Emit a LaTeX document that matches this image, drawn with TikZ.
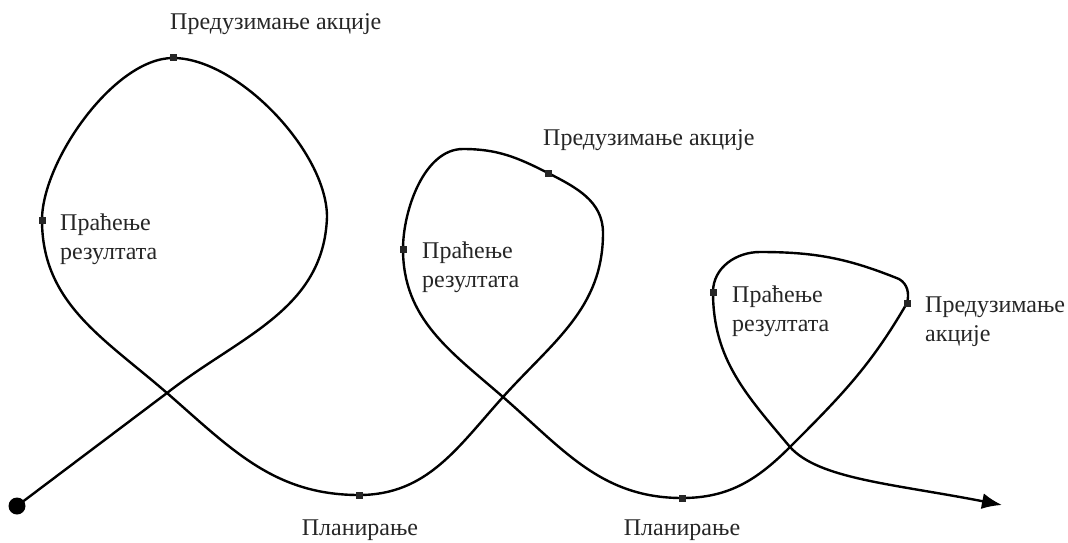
\documentclass[tikz,border=0pt]{standalone}
\usepackage{fontspec}
\setmainfont{Liberation Serif}
\usetikzlibrary{arrows.meta}
\begin{document}
\begin{tikzpicture}[x=1pt,y=1pt,
  curve/.style={line width=2.4pt, line join=round},
  mark box/.style={fill=black!85, minimum size=7pt, inner sep=0pt, draw=none},
  lbl/.style={font=\fontsize{24}{29}\selectfont, text=black!85, inner sep=0pt, align=left}]
\useasboundingbox (0,0) rectangle (1068,-543);
% key points
\coordinate (S)  at (17,-506);
\coordinate (C1) at (167,-393);
\coordinate (R1) at (327,-217);
\coordinate (T1) at (173,-58);
\coordinate (L1) at (42,-220);
\coordinate (B1) at (359,-495);
\coordinate (C2) at (503,-397);
\coordinate (R2) at (603,-233);
\coordinate (M5) at (548,-173);
\coordinate (T2) at (463,-149);
\coordinate (L2) at (403,-249);
\coordinate (B2) at (682,-498);
\coordinate (C3) at (790,-447);
\coordinate (M8) at (907,-303);
\coordinate (K3) at (899,-279);
\coordinate (T3) at (760,-252);
\coordinate (M7) at (713,-292);
\coordinate (E)  at (1002,-505);
\fill (S) circle (8.5);
\draw[curve, -{Latex[length=20pt,width=16pt]}]
 (S) -- (C1)
 to[out=38,in=268] (R1)
 to[out=90,in=0,looseness=0.75] (T1)
 to[out=180,in=90,looseness=0.72] (L1)
 to[out=270,in=139] (C1)
 to[out=-41,in=180] (B1)
 to[out=0,in=228] (C2)
 to[out=48,in=270] (R2)
 to[out=90,in=-27] (M5)
 to[out=153,in=0] (T2)
 to[out=180,in=90,looseness=0.85] (L2)
 to[out=270,in=139] (C2)
 to[out=-41,in=180] (B2)
 to[out=0,in=225] (C3)
 to[out=45,in=240] (M8)
 to[out=75,in=-30] (K3)
 to[out=158,in=0] (T3)
 to[out=180,in=90] (M7)
 to[out=270,in=130] (C3)
 to[out=-48,in=169,out looseness=0.5,in looseness=1.3] (E);
\node[mark box] (m1) at (T1) {};
\node[mark box] (m2) at (L1) {};
\node[mark box] (m3) at (B1) {};
\node[mark box] (m4) at (L2) {};
\node[mark box] (m5) at (M5) {};
\node[mark box] (m6) at (B2) {};
\node[mark box] (m7) at (M7) {};
\node[mark box] (m8) at (M8) {};
\node[lbl, anchor=base west] (t1) at (170,-30) {Предузимање акције};
\node[lbl, anchor=north west] (t2) at (60,-214) {Праћење\\резултата};
\node[lbl, anchor=north west] (t3) at (422,-242) {Праћење\\резултата};
\node[lbl, anchor=base west] (t4) at (543,-145) {Предузимање акције};
\node[lbl, anchor=north west] (t5) at (732,-286) {Праћење\\резултата};
\node[lbl, anchor=north west] (t6) at (925,-297) {Предузимање\\акције};
\node[lbl, anchor=base] (t7) at (360,-535) {Планирање};
\node[lbl, anchor=base] (t8) at (682,-535) {Планирање};
\end{tikzpicture}
\end{document}
